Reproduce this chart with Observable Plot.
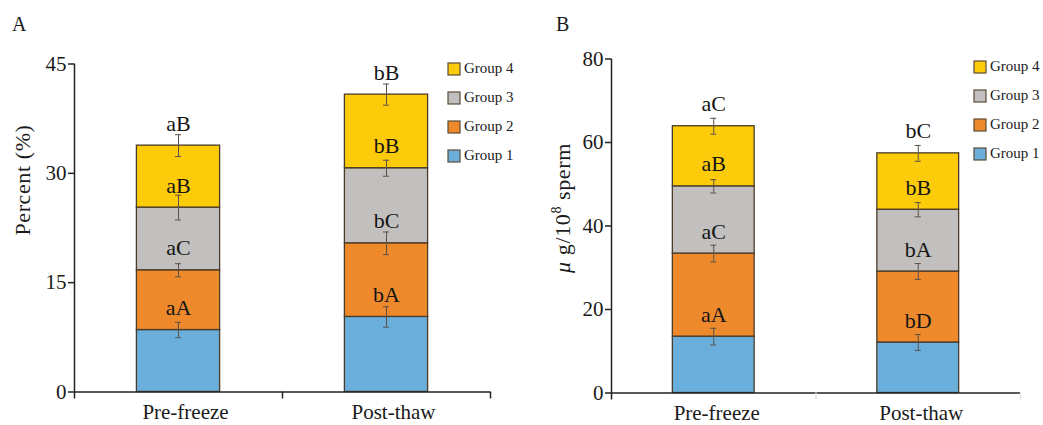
<!DOCTYPE html>
<html>
<head>
<meta charset="utf-8">
<script src="https://cdn.jsdelivr.net/npm/d3@7"></script>
<script src="https://cdn.jsdelivr.net/npm/@observablehq/plot@0.6"></script>
<style>
  html, body { margin: 0; padding: 0; background: #fff; }
  body { width: 1043px; height: 425px; position: relative; overflow: hidden;
         font-family: "Liberation Serif", "DejaVu Serif", serif; color: #1a1a1a; }
  .panel { position: absolute; top: 0; }
  .tag { position: absolute; font-size: 20px; line-height: 1; }
  .ylab { position: absolute; font-size: 22px; white-space: nowrap; letter-spacing: 0.6px;
          transform: translate(-50%, -50%) rotate(-90deg); }
  .ylab sup { font-size: 14px; vertical-align: 9px; line-height: 0; }
  .lg-swatches { display: flex !important; flex-direction: column-reverse !important;
                 align-items: flex-start !important; margin: 0 !important; min-height: 0 !important;
                 font-family: "Liberation Serif", serif !important; font-size: 15px !important; color: #1a1a1a !important; }
  .lg-swatch { display: flex !important; align-items: center !important; height: 29px;
               margin: 0 !important; }
  .lg-swatch > svg { margin-right: 4px !important; }
  .lg-swatch svg rect { stroke: #5a4a35; stroke-width: 1.2px; }
</style>
</head>
<body>
<div id="A" class="panel" style="left:0px"></div>
<div id="B" class="panel" style="left:520px"></div>
<div class="tag" style="left:12px; top:14px">A</div>
<div class="tag" style="left:556px; top:14px">B</div>
<div class="ylab" style="left:23px; top:180px">Percent (%)</div>
<div class="ylab" style="left:563px; top:208px"><i>μ</i> g/10<sup>8</sup> sperm</div>
<script>
// ---------- data ----------
const stages = ["Pre-freeze", "Post-thaw"];
const groups = ["Group 1", "Group 2", "Group 3", "Group 4"];
const groupColors = ["#6aaedb", "#ee8a2c", "#c1c0bf", "#fccb0a"];

// Panel A: Percent (%)
const aPreValues = [8.5, 8.2, 8.6, 8.5];
const aPreErrors = [1.05, 0.9, 1.7, 1.5];
const aPreLetters = ["aA", "aC", "aB", "aB"];
const aPostValues = [10.3, 10.1, 10.3, 10.1];
const aPostErrors = [1.4, 1.55, 1.1, 1.45];
const aPostLetters = ["bA", "bC", "bB", "bB"];
const aTicks = [0, 15, 30, 45];

// Panel B: μg/10^8 sperm
const bPreValues = [13.5, 19.9, 16.1, 14.4];
const bPreErrors = [2.0, 2.0, 1.6, 1.9];
const bPreLetters = ["aA", "aC", "aB", "aC"];
const bPostValues = [12.1, 17.0, 14.8, 13.5];
const bPostErrors = [1.9, 1.9, 1.7, 1.9];
const bPostLetters = ["bD", "bA", "bB", "bC"];
const bTicks = [0, 20, 40, 60, 80];

// ---------- helpers ----------
function buildRows(perStage) {
  const rows = [];
  perStage.forEach(([values, errors, letters], s) => {
    let cum = 0;
    values.forEach((v, g) => {
      rows.push({stage: stages[s], group: groups[g], y1: cum, y2: cum + v, err: errors[g], letter: letters[g]});
      cum += v;
    });
  });
  return rows;
}

function makePanel({el, width, height, ml, mr, mt, mb, rows, ticks, labelDx, boundaryColor}) {
  const step = (width - ml - mr) / stages.length;
  const bandwidth = step * 0.4;
  const capInset = (bandwidth - 6) / 2;
  const ymax = ticks[ticks.length - 1];
  const axisColor = "#222";
  const chart = Plot.plot({
    width, height,
    marginLeft: ml, marginRight: mr, marginTop: mt, marginBottom: mb,
    style: {fontFamily: "'Liberation Serif', serif", fontSize: "21px", color: "#1a1a1a", background: "transparent", overflow: "visible"},
    x: {domain: stages, paddingInner: 0.6, paddingOuter: 0.3, round: false},
    y: {domain: [0, ymax]},
    color: {domain: groups, range: groupColors},
    marks: [
      Plot.barY(rows, {x: "stage", y1: "y1", y2: "y2", fill: "group", stroke: "#4a3a28", strokeWidth: 1.3}),
      Plot.ruleX(rows, {x: "stage", y1: d => d.y2 - d.err, y2: d => d.y2 + d.err, stroke: "#5a5048", strokeWidth: 1}),
      Plot.tickY(rows, {x: "stage", y: d => d.y2 + d.err, insetLeft: capInset, insetRight: capInset, stroke: "#5a5048", strokeWidth: 1}),
      Plot.tickY(rows, {x: "stage", y: d => d.y2 - d.err, insetLeft: capInset, insetRight: capInset, stroke: "#5a5048", strokeWidth: 1}),
      Plot.text(rows, {x: "stage", y: "y2", text: "letter", dy: -22, fontSize: 22, fill: "#151515"}),
      // baseline and y axis line
      Plot.ruleY([0], {stroke: axisColor, strokeWidth: 1.5}),
      Plot.ruleX(stages.slice(0, 1), {x: d => d, y1: () => ymax, y2: () => 0, insetBottom: -7, dx: -step / 2, stroke: axisColor, strokeWidth: 1.5}),
      // x ticks at band boundaries
      Plot.ruleX(stages.slice(1), {x: d => d, y1: () => 0, y2: () => 0, insetBottom: -7, dx: -step / 2, stroke: boundaryColor, strokeWidth: 1.5}),
      Plot.ruleX(stages.slice(-1), {x: d => d, y1: () => 0, y2: () => 0, insetBottom: -7, dx: step / 2, stroke: boundaryColor, strokeWidth: 1.5}),
      Plot.axisY(ticks, {tickSize: 6, tickPadding: 2, fontSize: 21, label: null, stroke: axisColor, strokeWidth: 1.5}),
      Plot.axisX({tickSize: 0, tickPadding: 12, fontSize: 21, label: null, dx: labelDx})
    ]
  });
  el.append(chart);
}

function makeLegend(left, top) {
  const lg = Plot.legend({
    color: {domain: groups, range: groupColors},
    legend: "swatches",
    className: "lg",
    swatchSize: 12
  });
  lg.style.position = "absolute";
  lg.style.left = left + "px";
  lg.style.top = top + "px";
  document.body.append(lg);
}

makePanel({
  el: document.getElementById("A"), width: 520, height: 425,
  ml: 74, mr: 30, mt: 63.5, mb: 33.5,
  rows: buildRows([[aPreValues, aPreErrors, aPreLetters], [aPostValues, aPostErrors, aPostLetters]]),
  ticks: aTicks, labelDx: 7, boundaryColor: "#222"
});
makePanel({
  el: document.getElementById("B"), width: 523, height: 425,
  ml: 91, mr: 23, mt: 58.5, mb: 32.5,
  rows: buildRows([[bPreValues, bPreErrors, bPreLetters], [bPostValues, bPostErrors, bPostLetters]]),
  ticks: bTicks, labelDx: 3, boundaryColor: "#e2e2e2"
});
makeLegend(448, 54);
makeLegend(974, 52);
</script>
</body>
</html>
